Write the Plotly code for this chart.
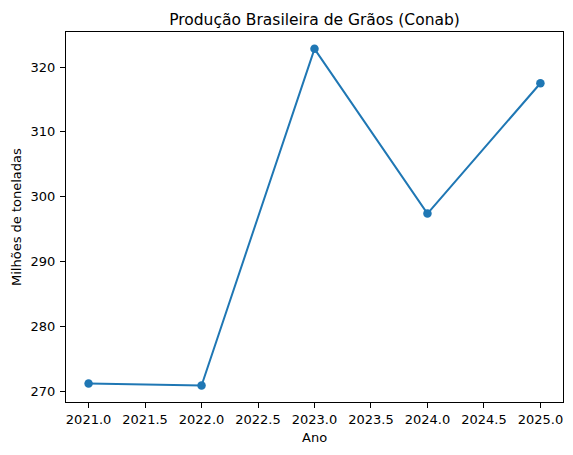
import plotly.graph_objects as go

# Dados (Conab)
anos = [2021, 2022, 2023, 2024, 2025]
producao = [271.2, 270.9, 322.8, 297.4, 317.5]

AZUL = "#1f77b4"
FONTE = "DejaVu Sans"

fig = go.Figure()
fig.add_trace(go.Scatter(
    x=anos, y=producao,
    mode="lines+markers",
    line=dict(color=AZUL, width=2),
    marker=dict(color=AZUL, size=8.5),
    showlegend=False,
))

eixo = dict(
    showline=True, linecolor="black", linewidth=1, mirror=True,
    ticks="outside", ticklen=5, tickwidth=1, tickcolor="black",
    showgrid=False, zeroline=False, automargin=False,
    tickfont=dict(family=FONTE, size=13, color="black"),
)

# a página tem margem de 8px no body, então o gráfico é deslocado
fig.update_layout(
    width=565, height=447,
    margin=dict(l=58, r=10, t=24, b=53),
    paper_bgcolor="white", plot_bgcolor="white",
    font=dict(family=FONTE, color="black"),
    title=dict(
        text="Produção Brasileira de Grãos (Conab)",
        x=0.5, xref="paper", xanchor="center",
        y=1, yref="paper", yanchor="bottom", pad=dict(b=7),
        font=dict(family=FONTE, size=15.5, color="black"),
    ),
    xaxis=dict(eixo, range=[2020.8, 2025.2], dtick=0.5, tick0=2021, tickformat=".1f"),
    yaxis=dict(eixo, range=[268.35, 325.4], dtick=10, tick0=270, ticklabelstandoff=2),
)

fig.add_annotation(
    text="Ano", xref="paper", yref="paper", x=0.5, y=0,
    showarrow=False, xanchor="center", yanchor="middle", yshift=-35,
    font=dict(family=FONTE, size=13, color="black"),
)
fig.add_annotation(
    text="Milhões de toneladas", xref="paper", yref="paper", x=0, y=0.5,
    textangle=-90, showarrow=False, xanchor="center", yanchor="middle",
    xshift=-50, font=dict(family=FONTE, size=13, color="black"),
)

fig.write_html("out.html")
